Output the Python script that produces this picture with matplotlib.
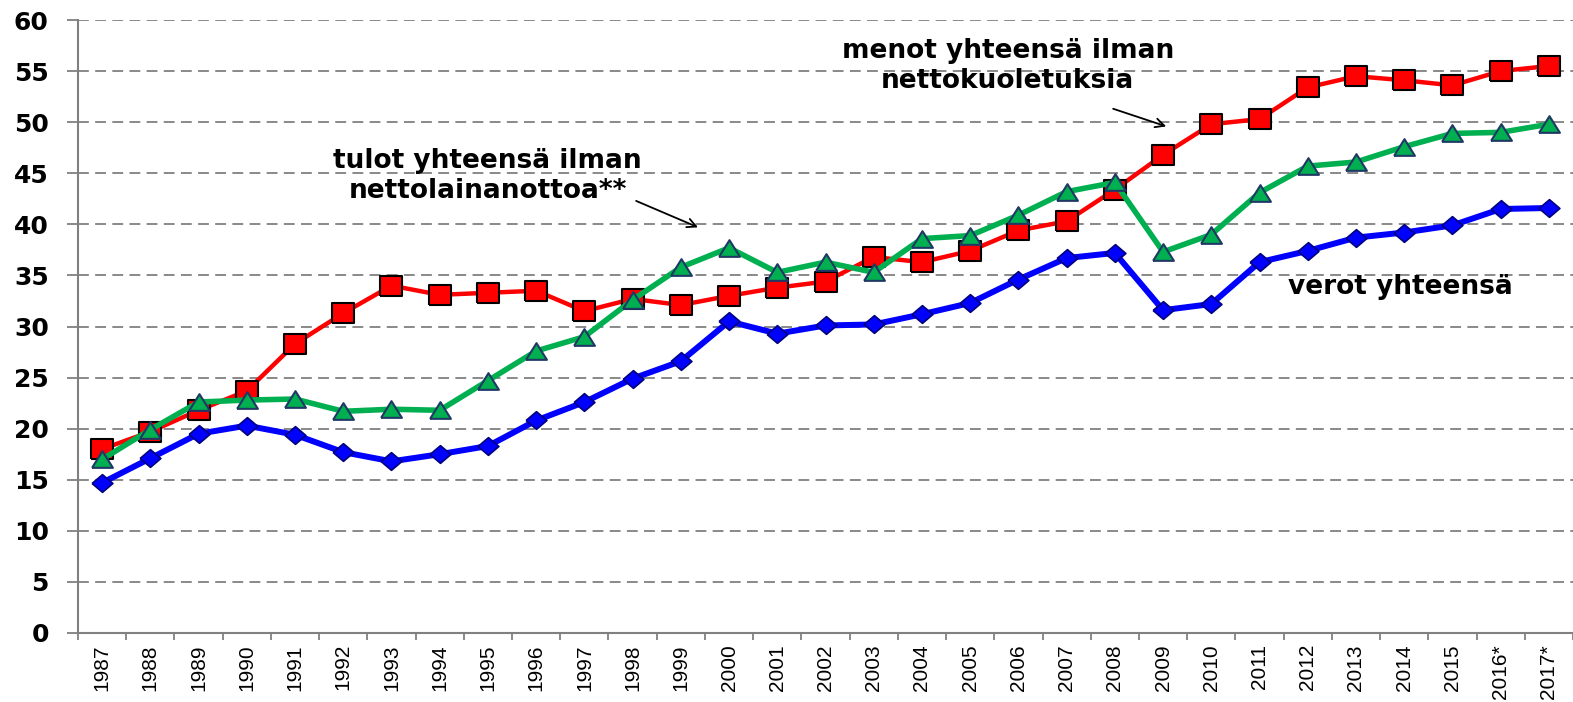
import numpy as np
import matplotlib.pyplot as plt
from matplotlib.ticker import FixedLocator

# Julkisen talouden tulot, menot ja verot 1987-2017
years = ["1987", "1988", "1989", "1990", "1991", "1992", "1993", "1994", "1995",
         "1996", "1997", "1998", "1999", "2000", "2001", "2002", "2003", "2004",
         "2005", "2006", "2007", "2008", "2009", "2010", "2011", "2012", "2013",
         "2014", "2015", "2016*", "2017*"]

menot = [18.0, 19.7, 21.8, 23.7, 28.3, 31.3, 34.0, 33.1, 33.3, 33.5, 31.5, 32.7,
         32.1, 33.0, 33.8, 34.4, 36.8, 36.3, 37.4, 39.4, 40.3, 43.4, 46.8, 49.8,
         50.3, 53.4, 54.5, 54.1, 53.6, 55.0, 55.5]

tulot = [17.0, 19.9, 22.6, 22.8, 22.9, 21.7, 21.9, 21.8, 24.7, 27.6, 29.0, 32.6,
         35.8, 37.7, 35.3, 36.3, 35.3, 38.6, 38.9, 40.9, 43.2, 44.1, 37.3, 39.0,
         43.1, 45.7, 46.1, 47.6, 48.9, 49.0, 49.8]

verot = [14.7, 17.1, 19.5, 20.3, 19.4, 17.7, 16.8, 17.5, 18.3, 20.8, 22.6, 24.9,
         26.6, 30.5, 29.3, 30.1, 30.2, 31.2, 32.3, 34.6, 36.7, 37.2, 31.6, 32.2,
         36.3, 37.4, 38.7, 39.2, 39.9, 41.5, 41.6]

x = np.arange(len(years))

sq = [(-1.2, -1), (1.2, -1), (1.2, 1), (-1.2, 1), (-1.2, -1)]
tri = [(-1, -0.8), (1, -0.8), (0, 0.8), (-1, -0.8)]
dia = [(-1, 0), (0, 0.85), (1, 0), (0, -0.85), (-1, 0)]

fig = plt.figure(figsize=(15.73, 7.02), dpi=100)
ax = fig.add_axes([0.0496, 0.0983, 0.9504, 0.8732])

ax.plot(x, verot, color="#0000FF", lw=4.3, marker=dia, ms=15,
        mfc="#0000FF", mec="#000080", mew=1.2, zorder=3)
ax.plot(x, menot, color="#FF0000", lw=3.2, marker=sq, ms=16.5,
        mfc="#FF0000", mec="black", mew=1.5, zorder=4)
ax.plot(x, tulot, color="#00B050", lw=4.0, marker=tri, ms=15,
        mfc="#00B050", mec="#1F3864", mew=1.5, zorder=5)

ax.set_xlim(-0.5, len(years) - 0.5)
ax.set_ylim(0, 60)
ax.set_yticks(np.arange(0, 61, 5))
ax.yaxis.grid(True, color="#808080", ls=(0, (6, 3.5)), lw=1.3)
ax.set_axisbelow(True)

for s in ["top", "right"]:
    ax.spines[s].set_visible(False)
for s in ["left", "bottom"]:
    ax.spines[s].set_color("#808080")
    ax.spines[s].set_linewidth(1.5)

ax.tick_params(axis="y", length=8, width=1.3, color="#808080", pad=13)
for lab in ax.get_yticklabels():
    lab.set_fontfamily("DejaVu Sans")
    lab.set_fontweight("bold")
    lab.set_fontsize(18)

ax.set_xticks(x)
ax.set_xticklabels(years, rotation=90, family="Liberation Sans", fontsize=15)
ax.xaxis.set_minor_locator(FixedLocator(np.arange(-0.5, len(years), 1.0)))
ax.tick_params(axis="x", which="major", length=0, pad=8)
ax.tick_params(axis="x", which="minor", length=5, width=1.3, color="#808080")

txt = dict(fontsize=19, fontweight="bold", family="DejaVu Sans", ha="center",
           va="center", multialignment="center", linespacing=1.2)
ax.text(7.99, 44.7, "tulot yhteensä ilman\nnettolainanottoa**", **txt)
ax.text(18.78, 55.5, "menot yhteensä ilman\nnettokuoletuksia", **txt)
ax.text(26.93, 33.9, "verot yhteensä", **txt)

arr = dict(arrowstyle="->", color="black", lw=1.3, mutation_scale=16)
ax.annotate("", xy=(12.41, 39.6), xytext=(11.02, 42.4), arrowprops=arr)
ax.annotate("", xy=(22.12, 49.5), xytext=(20.91, 51.4), arrowprops=arr)

fig.savefig("out.png", dpi=100)
